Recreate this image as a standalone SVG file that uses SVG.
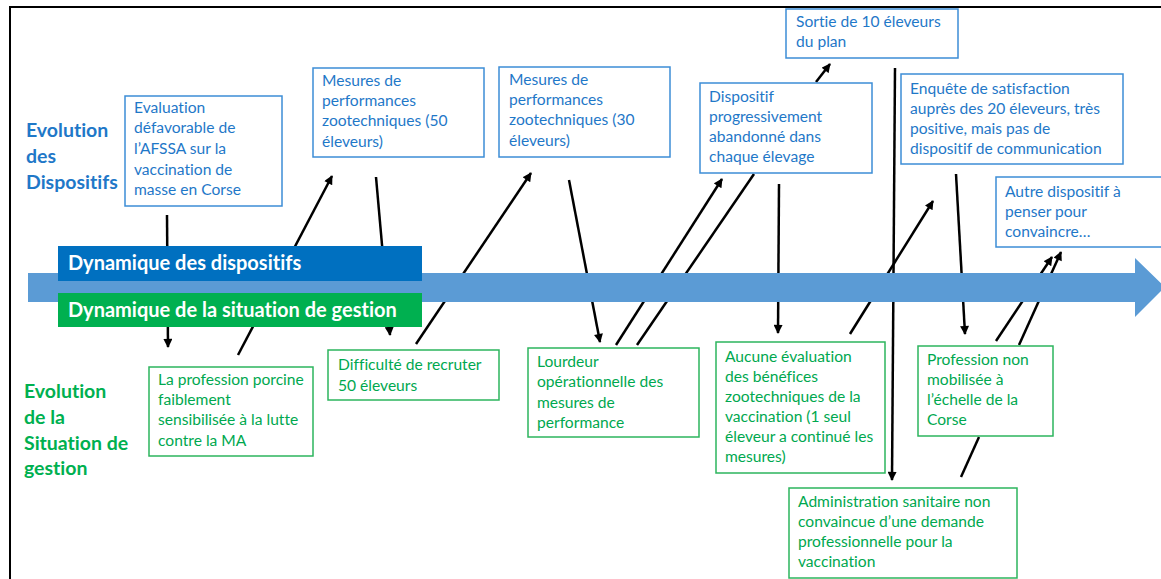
<svg xmlns="http://www.w3.org/2000/svg" width="1161" height="579" viewBox="0 0 1161 579">
<style>
text{font-variant-ligatures:none}
.bg{fill:#ffffff}
.frame{fill:none;stroke:#000;stroke-width:2}
.bbox{fill:#fff;stroke:#3C8DD6;stroke-width:1.5}
.gbox{fill:#fff;stroke:#2DB55D;stroke-width:1.5}
.bt{font-family:Lato,"Liberation Sans",sans-serif;font-size:15.6px;fill:#1F78C8}
.gt{font-family:Lato,"Liberation Sans",sans-serif;font-size:15.6px;fill:#00A84F}
.lb{font-family:Lato,"Liberation Sans",sans-serif;font-size:19.5px;font-weight:bold;fill:#1F78C8}
.lg{font-family:Lato,"Liberation Sans",sans-serif;font-size:19.5px;font-weight:bold;fill:#00B050}
.bar{font-family:Lato,"Liberation Sans",sans-serif;font-size:20px;font-weight:bold;fill:#fff}
.c{fill:none;stroke:#000;stroke-width:2.5}
.ca{fill:none;stroke:#000;stroke-width:2.5;marker-end:url(#ah)}
</style>
<defs>
<marker id="ah" viewBox="0 0 10 10" refX="9" refY="5" markerWidth="10" markerHeight="9" markerUnits="userSpaceOnUse" orient="auto">
<path d="M0,0 L10,5 L0,10 Z" fill="#000"/>
</marker>
</defs>
<rect class="bg" x="0" y="0" width="1161" height="579"/>
<rect class="frame" x="10" y="7" width="1170" height="600"/>

<g id="connectors">
<line class="ca" x1="167" y1="215" x2="168" y2="347"/>
<line class="ca" x1="238" y1="355" x2="332" y2="176"/>
<line class="ca" x1="376" y1="177" x2="390" y2="335"/>
<line class="ca" x1="416" y1="344" x2="531" y2="173"/>
<line class="ca" x1="569" y1="180" x2="600" y2="342"/>
<line class="ca" x1="616" y1="345" x2="722" y2="179"/>
<line class="c" x1="637" y1="345" x2="754" y2="174"/>
<line class="ca" x1="779" y1="184" x2="778" y2="333"/>
<line class="ca" x1="850" y1="334" x2="933" y2="201"/>
<line class="ca" x1="895" y1="68" x2="892" y2="480"/>
<line class="ca" x1="816" y1="82" x2="830" y2="64"/>
<line class="ca" x1="956" y1="174" x2="965" y2="334"/>
<line class="ca" x1="996" y1="341" x2="1052" y2="257"/>
<line class="ca" x1="1019" y1="345" x2="1061" y2="252"/>
<line class="c" x1="961" y1="477" x2="979" y2="437"/>
</g>

<g id="timeline">
<polygon points="28,273 1135,273 1135,258 1165,287 1135,317 1135,302 28,302" fill="#5B9BD5"/>
</g>
<g id="bar-dispositifs">
<rect x="58" y="246" width="364" height="35" fill="#0070C0"/>
<text class="bar" x="68" y="270">Dynamique des dispositifs</text>
</g>
<g id="bar-gestion">
<rect x="58" y="293" width="364" height="34" fill="#00B050"/>
<text class="bar" x="68" y="317">Dynamique de la situation de gestion</text>
</g>

<g id="label-dispositifs">
<text class="lb" x="26" y="137">Evolution</text>
<text class="lb" x="26" y="163">des</text>
<text class="lb" x="26" y="189">Dispositifs</text>
</g>
<g id="label-gestion">
<text class="lg" x="24" y="398">Evolution</text>
<text class="lg" x="24" y="424">de la</text>
<text class="lg" x="24" y="450">Situation de</text>
<text class="lg" x="24" y="475">gestion</text>
</g>

<g id="n1">
<rect class="bbox" x="125" y="96" width="157" height="110"/>
<text class="bt" x="134" y="113">Evaluation</text>
<text class="bt" x="134" y="133">défavorable de</text>
<text class="bt" x="134" y="154">l’AFSSA sur la</text>
<text class="bt" x="134" y="175">vaccination de</text>
<text class="bt" x="134" y="195">masse en Corse</text>
</g>
<g id="n2">
<rect class="bbox" x="313" y="68" width="171" height="89"/>
<text class="bt" x="322" y="86">Mesures de</text>
<text class="bt" x="322" y="106">performances</text>
<text class="bt" x="322" y="126">zootechniques  (50</text>
<text class="bt" x="322" y="147">éleveurs)</text>
</g>
<g id="n3">
<rect class="bbox" x="499" y="67" width="171" height="90"/>
<text class="bt" x="509" y="85">Mesures de</text>
<text class="bt" x="509" y="105">performances</text>
<text class="bt" x="509" y="125">zootechniques  (30</text>
<text class="bt" x="509" y="146">éleveurs)</text>
</g>
<g id="n4">
<rect class="bbox" x="700" y="83" width="172" height="90"/>
<text class="bt" x="709" y="102">Dispositif</text>
<text class="bt" x="709" y="122">progressivement</text>
<text class="bt" x="709" y="142">abandonné dans</text>
<text class="bt" x="709" y="162">chaque élevage</text>
</g>
<g id="n5">
<rect class="bbox" x="786" y="9" width="172" height="49"/>
<text class="bt" x="796" y="27">Sortie de 10 éleveurs</text>
<text class="bt" x="796" y="47">du plan</text>
</g>
<g id="n6">
<rect class="bbox" x="901" y="74" width="222" height="90"/>
<text class="bt" x="910" y="94">Enquête de satisfaction</text>
<text class="bt" x="910" y="114">auprès des 20 éleveurs, très</text>
<text class="bt" x="910" y="134">positive, mais pas de</text>
<text class="bt" x="910" y="154">dispositif de communication</text>
</g>
<g id="n7">
<rect class="bbox" x="996" y="177" width="174" height="70"/>
<text class="bt" x="1005" y="197">Autre dispositif à</text>
<text class="bt" x="1005" y="217">penser pour</text>
<text class="bt" x="1005" y="237">convaincre…</text>
</g>

<g id="n8">
<rect class="gbox" x="149" y="367" width="164" height="89"/>
<text class="gt" x="158" y="385">La profession porcine</text>
<text class="gt" x="158" y="405">faiblement</text>
<text class="gt" x="158" y="425">sensibilisée à la lutte</text>
<text class="gt" x="158" y="446">contre la MA</text>
</g>
<g id="n9">
<rect class="gbox" x="328" y="350" width="171" height="50"/>
<text class="gt" x="338" y="370">Difficulté de recruter</text>
<text class="gt" x="338" y="391">50 éleveurs</text>
</g>
<g id="n10">
<rect class="gbox" x="528" y="348" width="171" height="89"/>
<text class="gt" x="537" y="367">Lourdeur</text>
<text class="gt" x="537" y="387">opérationnelle  des</text>
<text class="gt" x="537" y="408">mesures de</text>
<text class="gt" x="537" y="428">performance</text>
</g>
<g id="n11">
<rect class="gbox" x="716" y="342" width="169" height="131"/>
<text class="gt" x="725" y="362">Aucune évaluation</text>
<text class="gt" x="725" y="382">des bénéfices</text>
<text class="gt" x="725" y="402">zootechniques  de la</text>
<text class="gt" x="725" y="422">vaccination (1 seul</text>
<text class="gt" x="725" y="442">éleveur a continué les</text>
<text class="gt" x="725" y="462">mesures)</text>
</g>
<g id="n12">
<rect class="gbox" x="918" y="346" width="135" height="90"/>
<text class="gt" x="927" y="365">Profession non</text>
<text class="gt" x="927" y="385">mobilisée à</text>
<text class="gt" x="927" y="405">l’échelle de la</text>
<text class="gt" x="927" y="425">Corse</text>
</g>
<g id="n13">
<rect class="gbox" x="789" y="488" width="228" height="90"/>
<text class="gt" x="798" y="507">Administration sanitaire non</text>
<text class="gt" x="798" y="527">convaincue d’une demande</text>
<text class="gt" x="798" y="547">professionnelle pour la</text>
<text class="gt" x="798" y="567">vaccination</text>
</g>
</svg>
